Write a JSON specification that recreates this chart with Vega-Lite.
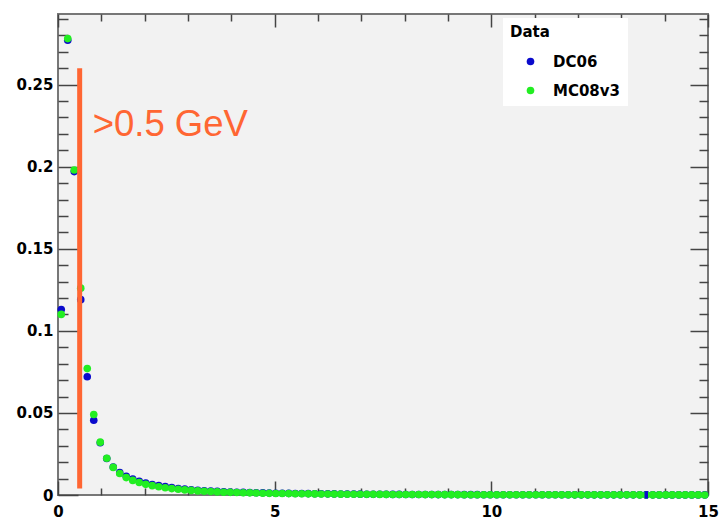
{
  "$schema": "https://vega.github.io/schema/vega-lite/v6.json",
  "width": 650,
  "height": 481,
  "autosize": {"type": "none"},
  "padding": {"left": 58, "top": 14, "right": 13, "bottom": 29},
  "config": {
    "view": {"fill": "#f2f2f2", "stroke": "#777777", "strokeWidth": 2},
    "axis": {
      "grid": false,
      "domain": false,
      "labelFont": "DejaVu Sans",
      "labelFontWeight": "bold",
      "labelFontSize": 15,
      "labelColor": "black",
      "tickColor": "#444444",
      "tickWidth": 1.5,
      "labelFlush": false,
      "labelOverlap": false
    }
  },
  "datasets": {
    "bins": [
      {"sample": "DC06", "energy": 0.075, "fraction": 0.113},
      {"sample": "DC06", "energy": 0.225, "fraction": 0.277},
      {"sample": "DC06", "energy": 0.375, "fraction": 0.197},
      {"sample": "DC06", "energy": 0.525, "fraction": 0.119},
      {"sample": "DC06", "energy": 0.675, "fraction": 0.072},
      {"sample": "DC06", "energy": 0.825, "fraction": 0.0455},
      {"sample": "DC06", "energy": 0.975, "fraction": 0.0318},
      {"sample": "DC06", "energy": 1.125, "fraction": 0.0222},
      {"sample": "DC06", "energy": 1.275, "fraction": 0.0170},
      {"sample": "DC06", "energy": 1.425, "fraction": 0.0136},
      {"sample": "DC06", "energy": 1.575, "fraction": 0.0114},
      {"sample": "DC06", "energy": 1.725, "fraction": 0.0097},
      {"sample": "DC06", "energy": 1.875, "fraction": 0.0084},
      {"sample": "DC06", "energy": 2.025, "fraction": 0.0073},
      {"sample": "DC06", "energy": 2.175, "fraction": 0.0064},
      {"sample": "DC06", "energy": 2.325, "fraction": 0.0057},
      {"sample": "DC06", "energy": 2.475, "fraction": 0.0051},
      {"sample": "DC06", "energy": 2.625, "fraction": 0.0045},
      {"sample": "DC06", "energy": 2.775, "fraction": 0.0040},
      {"sample": "DC06", "energy": 2.925, "fraction": 0.0036},
      {"sample": "DC06", "energy": 3.075, "fraction": 0.0032},
      {"sample": "DC06", "energy": 3.225, "fraction": 0.0029},
      {"sample": "DC06", "energy": 3.375, "fraction": 0.0026},
      {"sample": "DC06", "energy": 3.525, "fraction": 0.0024},
      {"sample": "DC06", "energy": 3.675, "fraction": 0.0022},
      {"sample": "DC06", "energy": 3.825, "fraction": 0.0020},
      {"sample": "DC06", "energy": 3.975, "fraction": 0.0018},
      {"sample": "DC06", "energy": 4.125, "fraction": 0.0017},
      {"sample": "DC06", "energy": 4.275, "fraction": 0.0016},
      {"sample": "DC06", "energy": 4.425, "fraction": 0.0015},
      {"sample": "DC06", "energy": 4.575, "fraction": 0.0014},
      {"sample": "DC06", "energy": 4.725, "fraction": 0.0013},
      {"sample": "DC06", "energy": 4.875, "fraction": 0.0012},
      {"sample": "DC06", "energy": 5.025, "fraction": 0.0011},
      {"sample": "DC06", "energy": 5.175, "fraction": 0.00105},
      {"sample": "DC06", "energy": 5.325, "fraction": 0.0010},
      {"sample": "DC06", "energy": 5.475, "fraction": 0.00095},
      {"sample": "DC06", "energy": 5.625, "fraction": 0.0009},
      {"sample": "DC06", "energy": 5.775, "fraction": 0.00085},
      {"sample": "DC06", "energy": 5.925, "fraction": 0.0008},
      {"sample": "DC06", "energy": 6.075, "fraction": 0.00075},
      {"sample": "DC06", "energy": 6.225, "fraction": 0.0007},
      {"sample": "DC06", "energy": 6.375, "fraction": 0.00066},
      {"sample": "DC06", "energy": 6.525, "fraction": 0.00062},
      {"sample": "DC06", "energy": 6.675, "fraction": 0.00058},
      {"sample": "DC06", "energy": 6.825, "fraction": 0.00055},
      {"sample": "DC06", "energy": 6.975, "fraction": 0.00052},
      {"sample": "DC06", "energy": 7.125, "fraction": 0.00049},
      {"sample": "DC06", "energy": 7.275, "fraction": 0.00046},
      {"sample": "DC06", "energy": 7.425, "fraction": 0.00043},
      {"sample": "DC06", "energy": 7.575, "fraction": 0.0004},
      {"sample": "DC06", "energy": 7.725, "fraction": 0.00038},
      {"sample": "DC06", "energy": 7.875, "fraction": 0.00036},
      {"sample": "DC06", "energy": 8.025, "fraction": 0.00034},
      {"sample": "DC06", "energy": 8.175, "fraction": 0.00032},
      {"sample": "DC06", "energy": 8.325, "fraction": 0.0003},
      {"sample": "DC06", "energy": 8.475, "fraction": 0.00029},
      {"sample": "DC06", "energy": 8.625, "fraction": 0.00027},
      {"sample": "DC06", "energy": 8.775, "fraction": 0.00026},
      {"sample": "DC06", "energy": 8.925, "fraction": 0.00025},
      {"sample": "DC06", "energy": 9.075, "fraction": 0.00024},
      {"sample": "DC06", "energy": 9.225, "fraction": 0.00023},
      {"sample": "DC06", "energy": 9.375, "fraction": 0.00022},
      {"sample": "DC06", "energy": 9.525, "fraction": 0.00021},
      {"sample": "DC06", "energy": 9.675, "fraction": 0.0002},
      {"sample": "DC06", "energy": 9.825, "fraction": 0.00019},
      {"sample": "DC06", "energy": 9.975, "fraction": 0.00018},
      {"sample": "DC06", "energy": 10.125, "fraction": 0.00018},
      {"sample": "DC06", "energy": 10.275, "fraction": 0.00017},
      {"sample": "DC06", "energy": 10.425, "fraction": 0.00016},
      {"sample": "DC06", "energy": 10.575, "fraction": 0.00016},
      {"sample": "DC06", "energy": 10.725, "fraction": 0.00015},
      {"sample": "DC06", "energy": 10.875, "fraction": 0.00015},
      {"sample": "DC06", "energy": 11.025, "fraction": 0.00014},
      {"sample": "DC06", "energy": 11.175, "fraction": 0.00014},
      {"sample": "DC06", "energy": 11.325, "fraction": 0.00013},
      {"sample": "DC06", "energy": 11.475, "fraction": 0.00013},
      {"sample": "DC06", "energy": 11.625, "fraction": 0.00012},
      {"sample": "DC06", "energy": 11.775, "fraction": 0.00012},
      {"sample": "DC06", "energy": 11.925, "fraction": 0.00011},
      {"sample": "DC06", "energy": 12.075, "fraction": 0.00011},
      {"sample": "DC06", "energy": 12.225, "fraction": 0.00011},
      {"sample": "DC06", "energy": 12.375, "fraction": 0.0001},
      {"sample": "DC06", "energy": 12.525, "fraction": 0.0001},
      {"sample": "DC06", "energy": 12.675, "fraction": 0.0001},
      {"sample": "DC06", "energy": 12.825, "fraction": 0.00009},
      {"sample": "DC06", "energy": 12.975, "fraction": 0.00009},
      {"sample": "DC06", "energy": 13.125, "fraction": 0.00009},
      {"sample": "DC06", "energy": 13.275, "fraction": 0.00008},
      {"sample": "DC06", "energy": 13.425, "fraction": 0.00008},
      {"sample": "DC06", "energy": 13.575, "fraction": 0.0001},
      {"sample": "DC06", "energy": 13.725, "fraction": 0.00008},
      {"sample": "DC06", "energy": 13.875, "fraction": 0.00007},
      {"sample": "DC06", "energy": 14.025, "fraction": 0.00007},
      {"sample": "DC06", "energy": 14.175, "fraction": 0.00007},
      {"sample": "DC06", "energy": 14.325, "fraction": 0.00006},
      {"sample": "DC06", "energy": 14.475, "fraction": 0.00006},
      {"sample": "DC06", "energy": 14.625, "fraction": 0.00006},
      {"sample": "DC06", "energy": 14.775, "fraction": 0.00005},
      {"sample": "DC06", "energy": 14.925, "fraction": 0.00005},
      {"sample": "MC08v3", "energy": 0.075, "fraction": 0.110},
      {"sample": "MC08v3", "energy": 0.225, "fraction": 0.278},
      {"sample": "MC08v3", "energy": 0.375, "fraction": 0.198},
      {"sample": "MC08v3", "energy": 0.525, "fraction": 0.126},
      {"sample": "MC08v3", "energy": 0.675, "fraction": 0.077},
      {"sample": "MC08v3", "energy": 0.825, "fraction": 0.049},
      {"sample": "MC08v3", "energy": 0.975, "fraction": 0.0322},
      {"sample": "MC08v3", "energy": 1.125, "fraction": 0.0224},
      {"sample": "MC08v3", "energy": 1.275, "fraction": 0.0168},
      {"sample": "MC08v3", "energy": 1.425, "fraction": 0.0131},
      {"sample": "MC08v3", "energy": 1.575, "fraction": 0.0106},
      {"sample": "MC08v3", "energy": 1.725, "fraction": 0.0089},
      {"sample": "MC08v3", "energy": 1.875, "fraction": 0.0076},
      {"sample": "MC08v3", "energy": 2.025, "fraction": 0.0065},
      {"sample": "MC08v3", "energy": 2.175, "fraction": 0.0057},
      {"sample": "MC08v3", "energy": 2.325, "fraction": 0.0050},
      {"sample": "MC08v3", "energy": 2.475, "fraction": 0.0044},
      {"sample": "MC08v3", "energy": 2.625, "fraction": 0.0039},
      {"sample": "MC08v3", "energy": 2.775, "fraction": 0.0035},
      {"sample": "MC08v3", "energy": 2.925, "fraction": 0.0031},
      {"sample": "MC08v3", "energy": 3.075, "fraction": 0.0028},
      {"sample": "MC08v3", "energy": 3.225, "fraction": 0.0025},
      {"sample": "MC08v3", "energy": 3.375, "fraction": 0.0023},
      {"sample": "MC08v3", "energy": 3.525, "fraction": 0.0021},
      {"sample": "MC08v3", "energy": 3.675, "fraction": 0.0019},
      {"sample": "MC08v3", "energy": 3.825, "fraction": 0.0017},
      {"sample": "MC08v3", "energy": 3.975, "fraction": 0.0016},
      {"sample": "MC08v3", "energy": 4.125, "fraction": 0.0015},
      {"sample": "MC08v3", "energy": 4.275, "fraction": 0.0014},
      {"sample": "MC08v3", "energy": 4.425, "fraction": 0.0013},
      {"sample": "MC08v3", "energy": 4.575, "fraction": 0.0012},
      {"sample": "MC08v3", "energy": 4.725, "fraction": 0.0011},
      {"sample": "MC08v3", "energy": 4.875, "fraction": 0.0010},
      {"sample": "MC08v3", "energy": 5.025, "fraction": 0.00095},
      {"sample": "MC08v3", "energy": 5.175, "fraction": 0.0009},
      {"sample": "MC08v3", "energy": 5.325, "fraction": 0.00085},
      {"sample": "MC08v3", "energy": 5.475, "fraction": 0.0008},
      {"sample": "MC08v3", "energy": 5.625, "fraction": 0.00075},
      {"sample": "MC08v3", "energy": 5.775, "fraction": 0.0007},
      {"sample": "MC08v3", "energy": 5.925, "fraction": 0.00066},
      {"sample": "MC08v3", "energy": 6.075, "fraction": 0.00062},
      {"sample": "MC08v3", "energy": 6.225, "fraction": 0.00058},
      {"sample": "MC08v3", "energy": 6.375, "fraction": 0.00055},
      {"sample": "MC08v3", "energy": 6.525, "fraction": 0.00052},
      {"sample": "MC08v3", "energy": 6.675, "fraction": 0.00049},
      {"sample": "MC08v3", "energy": 6.825, "fraction": 0.00046},
      {"sample": "MC08v3", "energy": 6.975, "fraction": 0.00043},
      {"sample": "MC08v3", "energy": 7.125, "fraction": 0.00041},
      {"sample": "MC08v3", "energy": 7.275, "fraction": 0.00039},
      {"sample": "MC08v3", "energy": 7.425, "fraction": 0.00037},
      {"sample": "MC08v3", "energy": 7.575, "fraction": 0.00035},
      {"sample": "MC08v3", "energy": 7.725, "fraction": 0.00033},
      {"sample": "MC08v3", "energy": 7.875, "fraction": 0.00031},
      {"sample": "MC08v3", "energy": 8.025, "fraction": 0.0003},
      {"sample": "MC08v3", "energy": 8.175, "fraction": 0.00028},
      {"sample": "MC08v3", "energy": 8.325, "fraction": 0.00027},
      {"sample": "MC08v3", "energy": 8.475, "fraction": 0.00026},
      {"sample": "MC08v3", "energy": 8.625, "fraction": 0.00024},
      {"sample": "MC08v3", "energy": 8.775, "fraction": 0.00023},
      {"sample": "MC08v3", "energy": 8.925, "fraction": 0.00022},
      {"sample": "MC08v3", "energy": 9.075, "fraction": 0.00021},
      {"sample": "MC08v3", "energy": 9.225, "fraction": 0.0002},
      {"sample": "MC08v3", "energy": 9.375, "fraction": 0.00019},
      {"sample": "MC08v3", "energy": 9.525, "fraction": 0.00018},
      {"sample": "MC08v3", "energy": 9.675, "fraction": 0.00018},
      {"sample": "MC08v3", "energy": 9.825, "fraction": 0.00017},
      {"sample": "MC08v3", "energy": 9.975, "fraction": 0.00016},
      {"sample": "MC08v3", "energy": 10.125, "fraction": 0.00016},
      {"sample": "MC08v3", "energy": 10.275, "fraction": 0.00015},
      {"sample": "MC08v3", "energy": 10.425, "fraction": 0.00015},
      {"sample": "MC08v3", "energy": 10.575, "fraction": 0.00014},
      {"sample": "MC08v3", "energy": 10.725, "fraction": 0.00014},
      {"sample": "MC08v3", "energy": 10.875, "fraction": 0.00013},
      {"sample": "MC08v3", "energy": 11.025, "fraction": 0.00013},
      {"sample": "MC08v3", "energy": 11.175, "fraction": 0.00012},
      {"sample": "MC08v3", "energy": 11.325, "fraction": 0.00012},
      {"sample": "MC08v3", "energy": 11.475, "fraction": 0.00012},
      {"sample": "MC08v3", "energy": 11.625, "fraction": 0.00011},
      {"sample": "MC08v3", "energy": 11.775, "fraction": 0.00011},
      {"sample": "MC08v3", "energy": 11.925, "fraction": 0.0001},
      {"sample": "MC08v3", "energy": 12.075, "fraction": 0.0001},
      {"sample": "MC08v3", "energy": 12.225, "fraction": 0.0001},
      {"sample": "MC08v3", "energy": 12.375, "fraction": 0.00009},
      {"sample": "MC08v3", "energy": 12.525, "fraction": 0.00009},
      {"sample": "MC08v3", "energy": 12.675, "fraction": 0.00009},
      {"sample": "MC08v3", "energy": 12.825, "fraction": 0.00008},
      {"sample": "MC08v3", "energy": 12.975, "fraction": 0.00008},
      {"sample": "MC08v3", "energy": 13.125, "fraction": 0.00008},
      {"sample": "MC08v3", "energy": 13.275, "fraction": 0.00008},
      {"sample": "MC08v3", "energy": 13.425, "fraction": 0.00007},
      {"sample": "MC08v3", "energy": 13.575, "fraction": 0.00007},
      {"sample": "MC08v3", "energy": 13.725, "fraction": 0.00007},
      {"sample": "MC08v3", "energy": 13.875, "fraction": 0.00007},
      {"sample": "MC08v3", "energy": 14.025, "fraction": 0.00006},
      {"sample": "MC08v3", "energy": 14.175, "fraction": 0.00006},
      {"sample": "MC08v3", "energy": 14.325, "fraction": 0.00006},
      {"sample": "MC08v3", "energy": 14.475, "fraction": 0.00005},
      {"sample": "MC08v3", "energy": 14.625, "fraction": 0.00005},
      {"sample": "MC08v3", "energy": 14.775, "fraction": 0.00005},
      {"sample": "MC08v3", "energy": 14.925, "fraction": 0.00004}
    ],
    "errors": [
      {"energy": 13.575, "low": -0.0022, "high": 0.0024}
    ],
    "cut": [
      {"energy": 0.5, "low": 0.004, "high": 0.26}
    ],
    "tag": [
      {"energy": 0.8, "fraction": 0.2188, "label": ">0.5 GeV"}
    ]
  },
  "resolve": {"axis": {"x": "independent", "y": "independent"}},
  "layer": [
    {
      "data": {"name": "bins"},
      "mark": {"type": "point", "filled": true, "size": 58, "opacity": 1},
      "encoding": {
        "x": {
          "field": "energy", "type": "quantitative",
          "scale": {"domain": [0, 15], "nice": false, "zero": false},
          "axis": {
            "orient": "bottom", "title": null, "format": "d",
            "values": [0, 1, 2, 3, 4, 5, 6, 7, 8, 9, 10, 11, 12, 13, 14, 15],
            "labelExpr": "datum.value % 5 === 0 ? datum.label : ''",
            "tickSize": {"condition": {"test": "datum.value % 5 === 0", "value": -14}, "value": -7},
            "labelPadding": 23
          }
        },
        "y": {
          "field": "fraction", "type": "quantitative",
          "scale": {"domain": [0, 0.293], "nice": false},
          "axis": {
            "orient": "left", "title": null, "format": "~g",
            "values": [0, 0.01, 0.02, 0.03, 0.04, 0.05, 0.06, 0.07, 0.08, 0.09, 0.1, 0.11, 0.12, 0.13, 0.14, 0.15, 0.16, 0.17, 0.18, 0.19, 0.2, 0.21, 0.22, 0.23, 0.24, 0.25, 0.26, 0.27, 0.28, 0.29],
            "labelExpr": "round(datum.value * 100) % 5 === 0 ? datum.label : ''",
            "tickSize": {"condition": {"test": "round(datum.value * 100) % 5 === 0", "value": -20}, "value": -10},
            "labelPadding": 25
          }
        },
        "color": {
          "field": "sample", "type": "nominal",
          "scale": {"domain": ["DC06", "MC08v3"], "range": ["#0a0acc", "#22ee22"]},
          "legend": {
            "orient": "none", "legendX": 445, "legendY": 4,
            "fillColor": "white", "padding": 7,
            "title": "Data", "titleFont": "DejaVu Sans", "titleFontWeight": "bold", "titleFontSize": 15, "titleColor": "black", "titlePadding": 14,
            "labelFont": "DejaVu Sans", "labelFontWeight": "bold", "labelFontSize": 15, "labelColor": "black",
            "labelExpr": "datum.label + '\u2003\u2003\u2003\u2003\u2003\u2002'",
            "symbolType": "circle", "symbolSize": 58, "symbolStrokeWidth": 0, "symbolOpacity": 1,
            "symbolOffset": 13, "labelOffset": 15, "rowPadding": 13
          }
        }
      }
    },
    {
      "data": {"name": "errors"},
      "mark": {"type": "rule", "color": "#0a0acc", "strokeWidth": 3.5},
      "encoding": {
        "x": {"field": "energy", "type": "quantitative", "scale": {"domain": [0, 15], "nice": false, "zero": false}, "axis": null},
        "y": {"field": "low", "type": "quantitative", "scale": {"domain": [0, 0.293], "nice": false}, "axis": null},
        "y2": {"field": "high"}
      }
    },
    {
      "data": {"name": "cut"},
      "mark": {"type": "rule", "color": "#ff6633", "strokeWidth": 5},
      "encoding": {
        "x": {"field": "energy", "type": "quantitative", "scale": {"domain": [0, 15], "nice": false, "zero": false}, "axis": null},
        "y": {"field": "low", "type": "quantitative", "scale": {"domain": [0, 0.293], "nice": false}, "axis": null},
        "y2": {"field": "high"}
      }
    },
    {
      "data": {"name": "tag"},
      "mark": {"type": "text", "font": "Liberation Sans", "fontSize": 36.5, "color": "#ff6633", "align": "left", "baseline": "alphabetic"},
      "encoding": {
        "x": {
          "field": "energy", "type": "quantitative",
          "scale": {"domain": [0, 15], "nice": false, "zero": false},
          "axis": {
            "orient": "top", "title": null, "labels": false,
            "values": [0, 1, 2, 3, 4, 5, 6, 7, 8, 9, 10, 11, 12, 13, 14, 15],
            "tickSize": {"condition": {"test": "datum.value % 5 === 0", "value": -13}, "value": -7}
          }
        },
        "y": {
          "field": "fraction", "type": "quantitative",
          "scale": {"domain": [0, 0.293], "nice": false},
          "axis": {
            "orient": "right", "title": null, "labels": false,
            "values": [0, 0.01, 0.02, 0.03, 0.04, 0.05, 0.06, 0.07, 0.08, 0.09, 0.1, 0.11, 0.12, 0.13, 0.14, 0.15, 0.16, 0.17, 0.18, 0.19, 0.2, 0.21, 0.22, 0.23, 0.24, 0.25, 0.26, 0.27, 0.28, 0.29],
            "tickSize": {"condition": {"test": "round(datum.value * 100) % 5 === 0", "value": -18}, "value": -9}
          }
        },
        "text": {"field": "label"}
      }
    }
  ]
}
